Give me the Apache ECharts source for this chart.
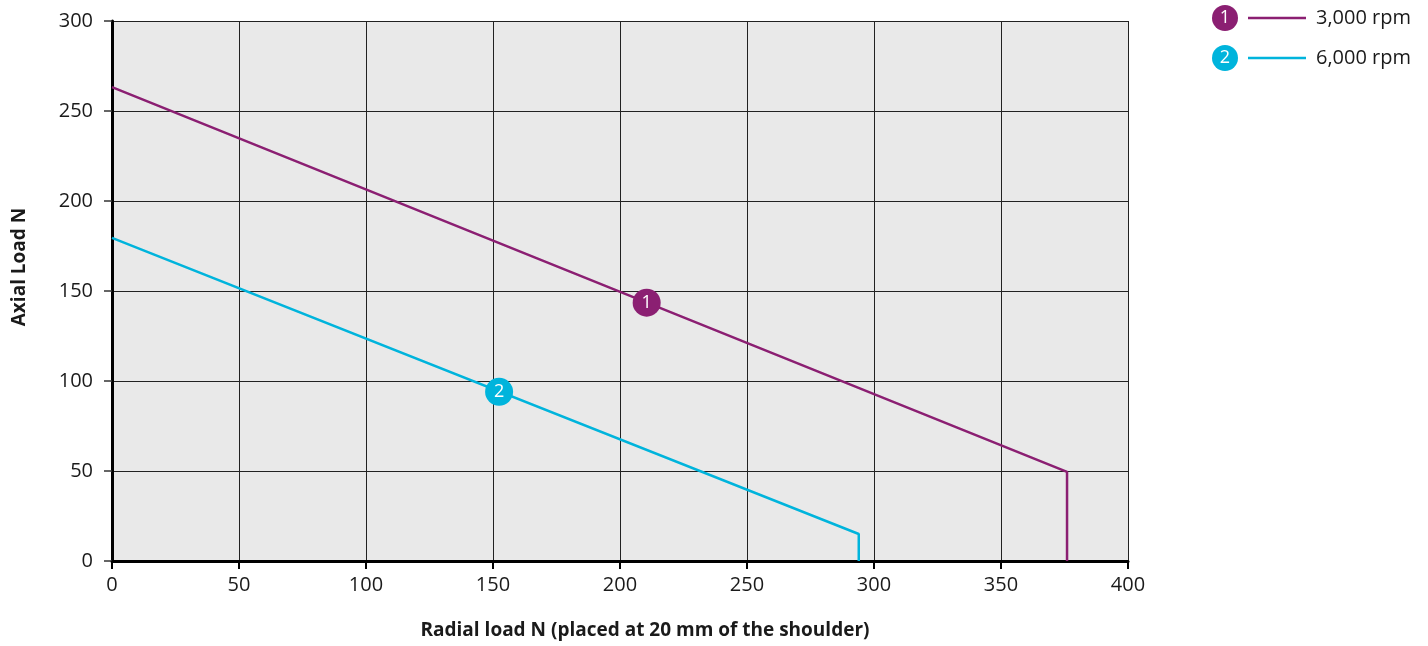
<!DOCTYPE html>
<html><head><meta charset="utf-8">
<script src="https://cdn.jsdelivr.net/npm/echarts@6/dist/echarts.min.js"></script>
<style>html,body{margin:0;padding:0;background:#fff}#c{width:1428px;height:646px}</style>
</head><body><div id="c"></div>
<script>
const xTicks = [0, 50, 100, 150, 200, 250, 300, 350, 400];
const yTicks = [0, 50, 100, 150, 200, 250, 300];
const seriesNames = ['3,000 rpm', '6,000 rpm'];
const rpm3000 = [[0, 263.3], [376, 49.5], [376, 0]];
const rpm6000 = [[0, 179.5], [294, 15], [294, 0]];
const markerLabels = ['1', '2'];
const markerPoints = [[210.5, 143.5], [152.4, 94]];
const colors = ['#8B1F72', '#00B4DC'];
const xTitle = 'Radial load N (placed at 20 mm of the shoulder)';
const yTitle = 'Axial Load N';

const font = '"Open Sans", sans-serif';
const chart = echarts.init(document.getElementById('c'));
const gridL = 112, gridT = 21, gridR = 300, gridB = 85;

const legendGraphics = [];
seriesNames.forEach((n, i) => {
  const cy = 18 + i * 40;
  legendGraphics.push({type:'circle', shape:{cx:1225, cy:cy, r:13}, style:{fill:colors[i]}});
  legendGraphics.push({type:'text', x:1225, y:cy, style:{text:markerLabels[i], fill:'#fff', font:'18px '+font, align:'center', verticalAlign:'middle'}});
  legendGraphics.push({type:'line', shape:{x1:1248, y1:cy, x2:1306, y2:cy}, style:{stroke:colors[i], lineWidth:2.5}});
  legendGraphics.push({type:'text', x:1316, y:cy, style:{text:n, fill:'#1a1a1a', font:'20px '+font, align:'left', verticalAlign:'middle'}});
});

chart.setOption({
  animation:false,
  grid:{left:gridL, top:gridT, right:gridR, bottom:gridB, show:true, backgroundColor:'#E9E9E9', borderWidth:0},
  xAxis:{type:'value', min:0, max:400, interval:50,
    axisLine:{show:true, onZero:false, lineStyle:{color:'#000', width:3}},
    axisTick:{show:true, length:8, lineStyle:{color:'#000', width:2}},
    axisLabel:{color:'#1a1a1a', fontSize:20, fontFamily:font, margin:14,
      formatter:v=>xTicks.includes(v)?String(v):''},
    splitLine:{show:true, lineStyle:{color:'#222', width:1}}},
  yAxis:{type:'value', min:0, max:300, interval:50,
    axisLine:{show:true, onZero:false, lineStyle:{color:'#000', width:3}},
    axisTick:{show:true, length:8, lineStyle:{color:'#333', width:1.5}},
    axisLabel:{color:'#1a1a1a', fontSize:20, fontFamily:font, margin:19,
      formatter:v=>yTicks.includes(v)?String(v):''},
    splitLine:{show:true, lineStyle:{color:'#222', width:1}}},
  series:[
    {name:seriesNames[0], type:'line', data:rpm3000, symbol:'none', lineStyle:{color:colors[0], width:2.5}, z:3},
    {name:seriesNames[1], type:'line', data:rpm6000, symbol:'none', lineStyle:{color:colors[1], width:2.5}, z:3},
    {type:'scatter', symbolSize:28, z:5,
      data:markerPoints.map((p,i)=>({value:p, itemStyle:{color:colors[i], opacity:1},
        label:{show:true, position:'inside', formatter:markerLabels[i], color:'#fff', fontSize:18, fontFamily:font}}))}
  ],
  graphic:[
    {type:'text', x:20, y:267, rotation:Math.PI/2, style:{text:yTitle, fill:'#1a1a1a', font:'bold 19px '+font, align:'center', verticalAlign:'middle'}},
    {type:'text', x:645, y:631, style:{text:xTitle, fill:'#1a1a1a', font:'bold 19px '+font, align:'center', verticalAlign:'middle'}},
    ...legendGraphics
  ]
});
</script></body></html>
